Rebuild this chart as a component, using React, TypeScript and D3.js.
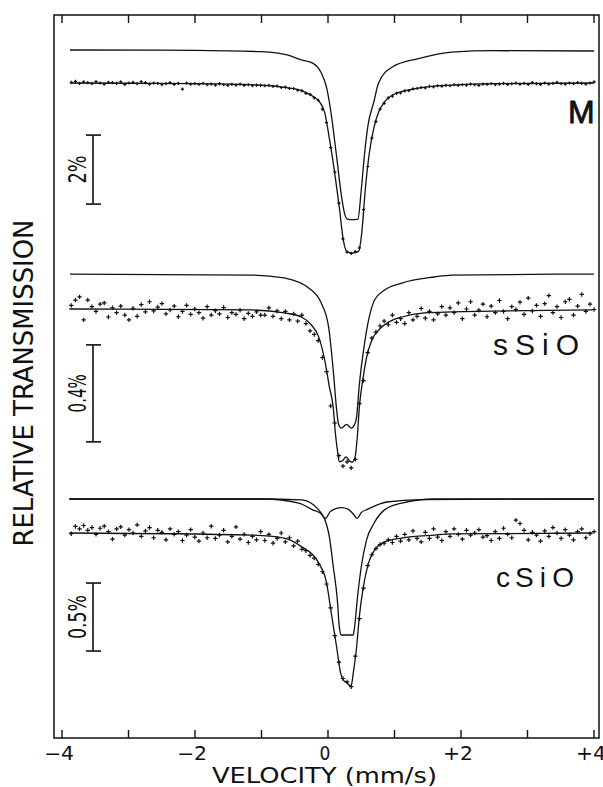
import * as d3 from "d3";

const W = 603;
const H = 787;

// velocity axis (mm/s)
const velocityDomain = [-4, 4];
const velocityTicks = [-4, -3, -2, -1, 0, 1, 2, 3, 4];
const labelTicks = [-4, -2, 0, 2, 4];
const labelTexts = ["−4", "−2", "0", "+2", "+4"];

// channel grid of the folded spectra
const channelStart = -3.86;
const channelStep = 0.0619;

// measured relative transmission (%), one value per channel
const mData = [
  100.02, 100.05, 99.99, 100.03, 100.01, 99.98, 100.04, 100.0, 99.97, 100.02,
  100.01, 99.99, 100.03, 99.96, 100.0, 100.02, 99.98, 100.04, 100.01, 99.97,
  100.0, 99.99, 99.95, 99.98, 100.01, 99.96, 99.99, 99.82, 100.0, 99.97,
  99.98, 99.96, 99.99, 99.95, 99.97, 99.94, 99.98, 99.95, 99.93, 99.96,
  99.94, 99.97, 99.93, 99.95, 99.92, 99.94, 99.93,
  99.92, 99.93, 99.9, 99.91, 99.87, 99.88, 99.84, 99.84, 99.79, 99.78,
  99.7, 99.67, 99.57, 99.5, 99.24, 98.85, 98.13, 97.42, 96.52, 95.48,
  95.1, 95.06, 95.11, 95.22, 96.33, 97.58, 98.4, 98.88, 99.24, 99.41,
  99.57, 99.62, 99.7, 99.71, 99.77, 99.78, 99.83, 99.84, 99.87, 99.86,
  99.9, 99.89, 99.92, 99.91,
  99.93, 99.92, 99.95, 99.93, 99.95, 99.94, 99.97, 99.95, 99.93, 99.97,
  99.96, 99.98, 99.95, 99.97, 99.99, 99.96, 99.98, 100.0, 99.97, 99.99,
  99.96, 100.01, 99.98, 99.96, 100.0, 99.97, 99.99, 100.02, 99.98, 99.97,
  100.0, 99.98, 100.01, 99.99, 99.97, 100.0, 100.03,
];

const sData = [
  100.015, 100.037, 100.05, 99.955, 100.037, 100.01, 99.99, 100.02, 100.025, 99.967,
  100.005, 99.985, 100.012, 99.975, 99.955, 100.003, 99.97, 100.018, 99.988, 100.03,
  99.992, 100.008, 100.022, 99.98, 99.996, 100.012, 99.968, 99.99, 100.015, 99.978,
  100.0, 99.985, 99.962, 100.01, 99.975, 99.993, 99.98, 100.006, 99.965, 99.985,
  99.978, 99.995, 99.96, 99.982, 99.97, 99.988, 99.975,
  99.975, 100.005, 99.97, 99.992, 99.96, 99.99, 99.955, 99.98, 99.95, 99.975,
  99.94, 99.91, 99.895, 99.87, 99.8, 99.742, 99.6, 99.53, 99.395, 99.352,
  99.37, 99.345, 99.38, 99.61, 99.705, 99.82, 99.88, 99.905, 99.93, 99.95,
  99.935, 99.975, 99.945, 99.96, 99.94, 99.985, 99.955, 99.97, 100.002, 99.962,
  99.99, 99.955, 99.98, 100.01,
  99.975, 100.005, 99.985, 100.025, 99.96, 100.0, 100.03, 99.975, 99.995, 100.02,
  99.968, 100.012, 99.985, 100.035, 99.99, 99.96, 100.01, 99.998, 100.028, 99.978,
  100.045, 99.992, 100.015, 99.97, 100.022, 100.055, 99.985, 100.01, 99.965, 100.03,
  100.04, 99.975, 100.012, 100.06, 99.99, 100.02, 99.998,
];

const cData = [
  99.995, 100.048, 100.03, 100.055, 100.02, 100.04, 99.99, 100.035, 100.05, 100.01,
  99.955, 100.03, 100.045, 99.985, 100.025, 100.0, 100.06, 99.975, 100.015, 100.04,
  99.965, 100.02, 100.005, 99.95, 100.03, 99.99, 100.01, 99.945, 99.985, 100.025,
  99.97, 99.94, 100.0, 99.965, 100.05, 99.96, 99.985, 100.02, 99.935, 99.975,
  100.045, 99.955, 99.99, 99.93, 99.975, 99.95, 100.01,
  99.945, 99.99, 99.925, 99.96, 100.0, 99.935, 99.965, 99.905, 99.94, 99.88,
  99.87, 99.835, 99.815, 99.77, 99.715, 99.625, 99.45, 99.245, 99.05, 98.93,
  98.905, 98.87, 99.095, 99.37, 99.595, 99.76, 99.84, 99.885, 99.915, 99.925,
  99.95, 99.93, 99.975, 99.94, 99.99, 99.95, 100.015, 99.96, 99.935, 100.005,
  99.96, 100.03, 99.97, 99.945,
  100.01, 99.975, 100.03, 99.99, 99.955, 100.02, 99.985, 100.0, 100.025, 99.97,
  99.98, 99.945, 100.01, 99.96, 100.035, 99.99, 99.965, 100.095, 100.07, 100.02,
  99.95, 100.005, 99.985, 99.94, 100.015, 99.975, 100.04, 100.0, 99.96, 100.025,
  99.985, 99.95, 100.01, 100.03, 99.965, 99.995, 100.01,
];

// fitted curves: velocity nodes and absorption (%)
const mFitV = [-3.88, -2.0, -1.0, -0.6, -0.4, -0.25, -0.14, -0.05, 0.02, 0.1, 0.17, 0.23, 0.28, 0.37, 0.46, 0.51, 0.56, 0.62, 0.69, 0.76, 0.85, 1.0, 1.36, 1.86, 2.5, 4.0];
const mFitD = [0, 0.02, 0.06, 0.14, 0.22, 0.36, 0.52, 0.85, 1.6, 2.6, 3.6, 4.55, 4.88, 4.93, 4.88, 4.3, 3.1, 2.05, 1.3, 0.85, 0.55, 0.32, 0.15, 0.06, 0.02, 0];
const mCompV = [-3.88, -2.0, -1.0, -0.6, -0.4, -0.23, -0.1, -0.02, 0.04, 0.13, 0.2, 0.25, 0.29, 0.37, 0.45, 0.5, 0.55, 0.6, 0.69, 0.76, 0.96, 1.36, 1.86, 2.5, 4.0];
const mCompD = [0, 0.01, 0.05, 0.15, 0.29, 0.38, 0.67, 1.1, 1.75, 3.1, 4.2, 4.75, 4.9, 4.92, 4.9, 4.06, 3.0, 2.2, 1.5, 0.96, 0.5, 0.25, 0.06, 0.02, 0.03];

const sFitV = [-3.89, -1.15, -0.66, -0.4, -0.25, -0.14, -0.05, 0.02, 0.08, 0.11, 0.14, 0.17, 0.22, 0.27, 0.32, 0.36, 0.4, 0.44, 0.47, 0.53, 0.58, 0.66, 0.76, 0.91, 1.11, 1.45, 1.86, 3.98];
const sFitD = [0, 0.004, 0.016, 0.033, 0.066, 0.115, 0.21, 0.32, 0.41, 0.51, 0.58, 0.63, 0.625, 0.61, 0.625, 0.632, 0.62, 0.53, 0.41, 0.28, 0.2, 0.128, 0.087, 0.054, 0.033, 0.016, 0.012, 0.004];
const sCompV = [-3.88, -1.15, -0.66, -0.25, -0.1, 0.01, 0.08, 0.13, 0.16, 0.2, 0.28, 0.35, 0.4, 0.43, 0.47, 0.55, 0.61, 0.7, 0.85, 1.11, 1.6, 1.86, 4.0];
const sCompD = [0, 0.004, 0.016, 0.066, 0.12, 0.22, 0.4, 0.56, 0.62, 0.635, 0.62, 0.635, 0.62, 0.59, 0.46, 0.285, 0.19, 0.107, 0.066, 0.037, 0.012, 0.004, 0];

const cFitV = [-3.89, -1.15, -0.66, -0.4, -0.14, -0.02, 0.05, 0.13, 0.19, 0.23, 0.28, 0.34, 0.36, 0.38, 0.43, 0.47, 0.53, 0.61, 0.7, 0.85, 1.11, 1.6, 1.86, 3.98];
const cFitD = [0, 0.015, 0.037, 0.1, 0.22, 0.37, 0.59, 0.84, 1.03, 1.08, 1.1, 1.125, 1.1, 1.03, 0.84, 0.62, 0.4, 0.22, 0.125, 0.066, 0.037, 0.015, 0.007, 0];
const cDeepV = [-3.89, -1.0, -0.4, -0.14, 0.01, 0.08, 0.14, 0.17, 0.2, 0.38, 0.4, 0.44, 0.5, 0.58, 0.69, 0.85, 1.11, 1.6, 4.0];
const cDeepD = [0, 0, 0.007, 0.08, 0.25, 0.5, 0.74, 0.94, 1.0, 1.0, 0.94, 0.74, 0.5, 0.3, 0.18, 0.08, 0.03, 0, 0];
const cDoubV = [-3.89, -0.97, -0.44, -0.23, -0.1, -0.04, 0.03, 0.12, 0.2, 0.3, 0.38, 0.44, 0.5, 0.6, 0.88, 1.41, 4.0];
const cDoubD = [0, 0, 0.03, 0.08, 0.11, 0.143, 0.095, 0.07, 0.063, 0.074, 0.11, 0.143, 0.1, 0.075, 0.022, 0.004, 0];

const axisFont = "'Liberation Sans Narrow', 'DejaVu Sans Condensed', 'Liberation Sans', sans-serif";
const labelFont = "'Liberation Sans', Arial, sans-serif";

const panels = [
  {
    key: "M", data: mData, fitV: mFitV, fitD: mFitD,
    comps: [[mCompV, mCompD]],
    base: 83, pxPerPct: 34.5, compShift: 0.957, marker: 1.6,
    barTop: 98.49, barSize: 2, barText: "2%", barLen: 28,
    prefix: "", name: "M", labelX: 568, nameX: 568, labelY: 123, labelSize: 32, nameLen: 0,
  },
  {
    key: "s", data: sData, fitV: sFitV, fitD: sFitD,
    comps: [[sCompV, sCompD]],
    base: 309, pxPerPct: 242.5, compShift: 0.144, marker: 2.2,
    barTop: 99.852, barSize: 0.4, barText: "0.4%", barLen: 38,
    prefix: "s", name: "SiO", labelX: 493, nameX: 515, labelY: 355, labelSize: 30, nameLen: 64,
  },
  {
    key: "c", data: cData, fitV: cFitV, fitD: cFitD,
    comps: [[cDeepV, cDeepD], [cDoubV, cDoubD]],
    base: 533, pxPerPct: 136, compShift: 0.25, marker: 2.2,
    barTop: 99.632, barSize: 0.5, barText: "0.5%", barLen: 44,
    prefix: "c", name: "SiO", labelX: 496, nameX: 515, labelY: 587, labelSize: 28, nameLen: 59,
  },
];

export default function App() {
  const x = d3.scaleLinear().domain(velocityDomain).range([62, 594]);
  const frame = { left: 54, right: 599, top: 15, bottom: 738 };

  return (
    <svg width={W} height={H} style={{ position: "absolute", left: 0, top: 0, background: "#fff" }}>
      <rect x={frame.left} y={frame.top} width={frame.right - frame.left} height={frame.bottom - frame.top}
        fill="none" stroke="#111" strokeWidth={1.5} />
      {velocityTicks.map((v) => (
        <g key={v} stroke="#111" strokeWidth={1.4}>
          <line x1={x(v)} x2={x(v)} y1={frame.top} y2={frame.top + 8} />
          <line x1={x(v)} x2={x(v)} y1={frame.bottom - 8} y2={frame.bottom} />
        </g>
      ))}
      {labelTicks.map((v, i) => (
        <text key={v} x={x(v) - 3} y={760} textAnchor="middle" fontFamily={axisFont} fontSize={19}
          fill="#111" textLength={labelTexts[i].length > 1 ? 30 : undefined} lengthAdjust="spacingAndGlyphs">
          {labelTexts[i]}
        </text>
      ))}
      <text x={212} y={783} fontFamily={axisFont} fontSize={22} fill="#111" textLength={225}
        lengthAdjust="spacingAndGlyphs">VELOCITY (mm/s)</text>
      <text transform="translate(33,383) rotate(-90)" textAnchor="middle" fontFamily={axisFont} fontSize={26}
        fill="#111" textLength={327} lengthAdjust="spacingAndGlyphs">RELATIVE TRANSMISSION</text>

      {panels.map((p) => {
        const y = d3.scaleLinear().domain([100, 99]).range([p.base, p.base + p.pxPerPct]);
        const fitLine = d3.line<number>()
          .x((_, i) => x(p.fitV[i]))
          .y((d) => y(100 - d))
          .curve(d3.curveMonotoneX);
        const yTop = y(p.barTop);
        const yBot = y(p.barTop - p.barSize);
        const s = p.marker;
        return (
          <g key={p.key}>
            {p.comps.map(([cv, cd], k) => {
              const compLine = d3.line<number>()
                .x((_, i) => x(cv[i]))
                .y((d) => y(100 + p.compShift - d))
                .curve(d3.curveMonotoneX);
              return <path key={k} d={compLine(cd) || ""} fill="none" stroke="#111" strokeWidth={1.3} />;
            })}
            <path d={fitLine(p.fitD) || ""} fill="none" stroke="#111" strokeWidth={1.3} />
            <path
              d={p.data.map((t, i) => {
                const cx = x(channelStart + i * channelStep);
                const cy = y(t);
                return `M${cx - s},${cy}h${2 * s}M${cx},${cy - s}v${2 * s}`;
              }).join("")}
              fill="none" stroke="#111" strokeWidth={1.2} />
            <g stroke="#111" strokeWidth={1.6}>
              <line x1={93} x2={93} y1={yTop} y2={yBot} />
              <line x1={86} x2={101} y1={yTop} y2={yTop} />
              <line x1={86} x2={101} y1={yBot} y2={yBot} />
            </g>
            <text transform={`translate(86,${(yTop + yBot) / 2}) rotate(-90)`} textAnchor="middle"
              fontFamily={axisFont} fontSize={24} fill="#111" textLength={p.barLen}
              lengthAdjust="spacingAndGlyphs">{p.barText}</text>
            <g fontFamily={labelFont} fontSize={p.labelSize} fill="#111">
              {p.prefix && <text x={p.labelX} y={p.labelY}>{p.prefix}</text>}
              <text x={p.nameX} y={p.labelY} stroke={p.prefix ? "none" : "#111"} strokeWidth={0.8}
                textLength={p.nameLen || undefined} lengthAdjust="spacing">{p.name}</text>
            </g>
          </g>
        );
      })}
    </svg>
  );
}
